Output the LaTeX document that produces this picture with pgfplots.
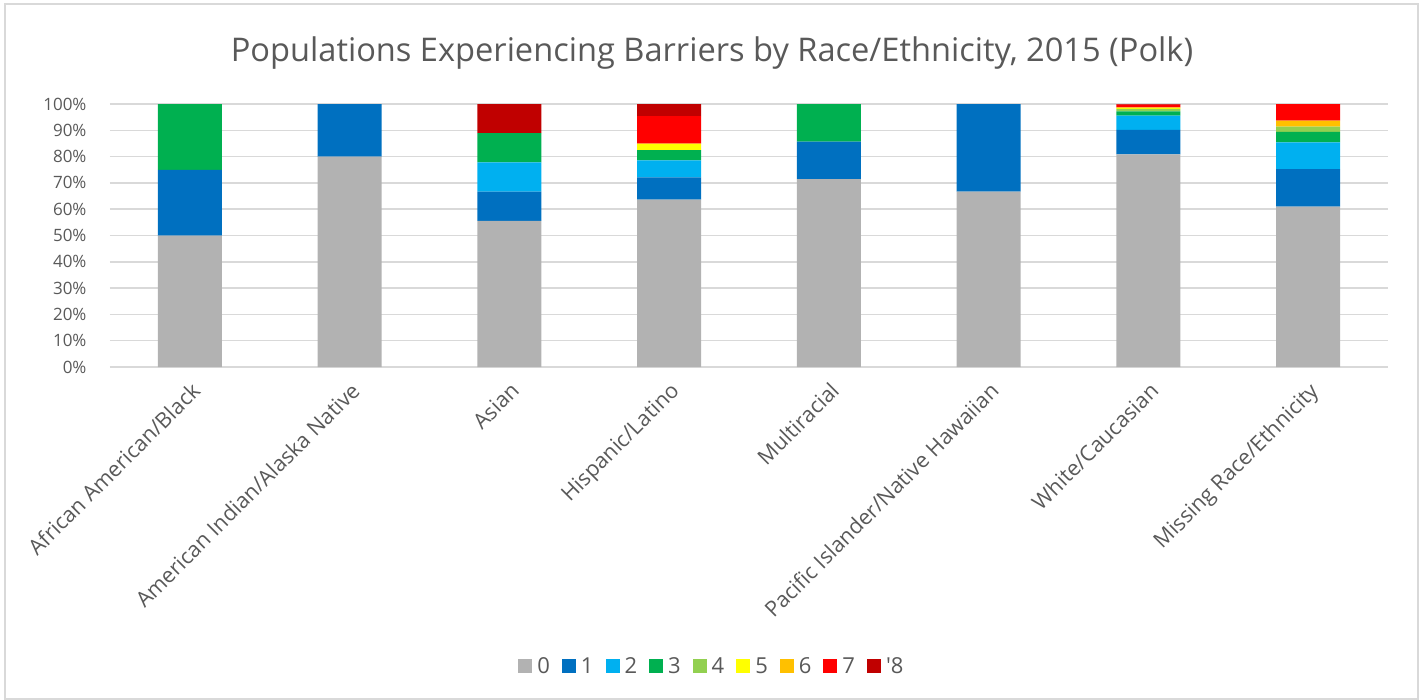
\documentclass[border=0pt]{standalone}
\usepackage{fontspec}
\setmainfont{Open Sans}
\usepackage{pgfplots}
\pgfplotsset{compat=1.18}
\usepackage{pgfplotstable}

\definecolor{txt}{HTML}{595959}
\definecolor{gridc}{HTML}{D9D9D9}
\definecolor{c0}{HTML}{B2B2B2}
\definecolor{c1}{HTML}{0070C0}
\definecolor{c2}{HTML}{00B0F0}
\definecolor{c3}{HTML}{00B050}
\definecolor{c4}{HTML}{92D050}
\definecolor{c5}{HTML}{FFFF00}
\definecolor{c6}{HTML}{FFC000}
\definecolor{c7}{HTML}{FF0000}
\definecolor{c8}{HTML}{C00000}

% share (%) of each group by number of barriers
\pgfplotstableread{
x  s0    s1    s2    s3    s4   s5   s6   s7    s8
0  50.0  25.0  0     25.0  0    0    0    0     0
1  80.0  20.0  0     0     0    0    0    0     0
2  55.6  11.1  11.1  11.1  0    0    0    0     11.1
3  63.6  8.5   6.5   3.9   0    2.4  0    10.5  4.6
4  71.4  14.3  0     14.3  0    0    0    0     0
5  66.7  33.3  0     0     0    0    0    0     0
6  80.8  9.4   5.4   1.6   0.9  0.3  0.3  1.1   0.2
7  61.0  14.2  10.2  4.0   2.0  0    2.3  6.3   0
}\data

\begin{document}
\begin{tikzpicture}
\path (0pt,0pt) rectangle (1425pt,-700pt);
\draw[gridc, line width=1.5pt] (5pt,-4pt) rectangle (1418pt,-699pt);
\node[text=txt, font=\fontsize{32.6}{40}\selectfont] at (712pt,-53pt)
  {Populations Experiencing Barriers by Race/Ethnicity, 2015 (Polk)};
\begin{axis}[
  at={(110pt,-367pt)}, anchor=south west,
  width=1278pt, height=263pt, scale only axis,
  ybar stacked, bar width=64pt,
  xmin=-0.5, xmax=7.5, ymin=0, ymax=100,
  xtick={0,...,7},
  xticklabels={African American/Black, American Indian/Alaska Native, Asian,
    Hispanic/Latino, Multiracial, Pacific Islander/Native Hawaiian,
    White/Caucasian, Missing Race/Ethnicity},
  ytick={0,10,...,100},
  yticklabels={0\%,10\%,20\%,30\%,40\%,50\%,60\%,70\%,80\%,90\%,100\%},
  major tick length=0pt,
  axis line style={draw=none},
  ymajorgrids, grid style={gridc, line width=1.5pt},
  yticklabel style={text=txt, font=\fontsize{17}{20}\selectfont, xshift=-20pt},
  xticklabel style={text=txt, font=\fontsize{21.5}{24}\selectfont,
    rotate=45, anchor=north east, xshift=0pt},
  xticklabel shift=9pt,
  area legend,
  legend columns=-1,
  legend style={at={(0.471,-1.137)}, anchor=center, draw=none,
    font=\fontsize{22}{24}\selectfont, text=txt,
    /tikz/every odd column/.append style={column sep=3pt},
    /tikz/every even column/.append style={column sep=10pt}},
  legend image code/.code={\fill[#1] (0pt,-7pt) rectangle (14pt,7pt);},
]
\addplot[fill=c0, draw=none] table[x=x, y=s0] {\data};
\addplot[fill=c1, draw=none] table[x=x, y=s1] {\data};
\addplot[fill=c2, draw=none] table[x=x, y=s2] {\data};
\addplot[fill=c3, draw=none] table[x=x, y=s3] {\data};
\addplot[fill=c4, draw=none] table[x=x, y=s4] {\data};
\addplot[fill=c5, draw=none] table[x=x, y=s5] {\data};
\addplot[fill=c6, draw=none] table[x=x, y=s6] {\data};
\addplot[fill=c7, draw=none] table[x=x, y=s7] {\data};
\addplot[fill=c8, draw=none] table[x=x, y=s8] {\data};
\draw[gridc, line width=1.5pt] (rel axis cs:0,0) -- (rel axis cs:1,0);
\legend{0,1,2,3,4,5,6,7,\textquotesingle 8}
\end{axis}
\end{tikzpicture}
\end{document}
